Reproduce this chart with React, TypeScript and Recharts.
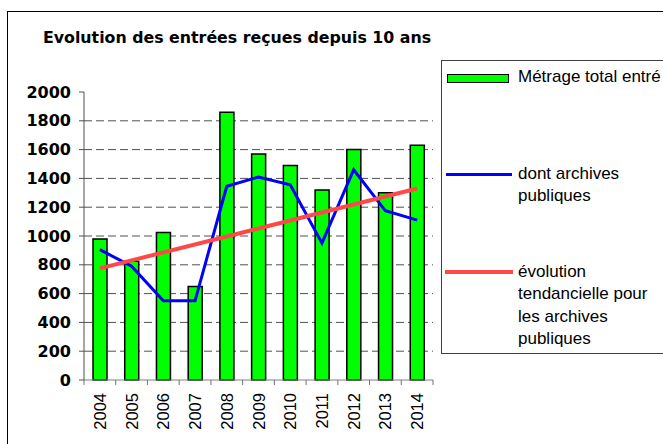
import React from 'react';
import { ComposedChart, Bar, Line, XAxis, YAxis, CartesianGrid } from 'recharts';

const YEARS = ['2004', '2005', '2006', '2007', '2008', '2009', '2010', '2011', '2012', '2013', '2014'];
const TOTAL = [980, 825, 1025, 650, 1860, 1570, 1490, 1320, 1600, 1300, 1630];
const PUBLIQUES = [905, 790, 550, 550, 1345, 1410, 1355, 950, 1460, 1175, 1110];
const TREND = [775, null, null, null, null, null, null, null, null, null, 1330];
const Y_TICKS = [0, 200, 400, 600, 800, 1000, 1200, 1400, 1600, 1800, 2000];
// dashed grid lines (the top edge is drawn by the cyan frame instead)
const GRID_VALUES = [200, 400, 600, 800, 1000, 1200, 1400, 1600, 1800];

const TITLE = 'Evolution des entrées reçues depuis 10 ans';
const LEGEND_TOTAL = ['Métrage total entré'];
const LEGEND_PUBLIQUES = ['dont archives', 'publiques'];
const LEGEND_TREND = ['évolution', 'tendancielle pour', 'les archives', 'publiques'];

const data = YEARS.map((year, i) => ({
    year,
    total: TOTAL[i],
    publiques: PUBLIQUES[i],
    trend: TREND[i]
}));

const LABEL_FONT = '"Liberation Sans", Arial, sans-serif';
const BOLD_FONT = '"DejaVu Sans", Verdana, sans-serif';

function YearTick(props: any) {
    const { x, y, payload, index, visibleTicksCount } = props;
    const off = payload && payload.offset ? payload.offset : 0;
    const last = index === visibleTicksCount - 1;
    return (
        <g>
            <line x1={x - off} x2={x - off} y1={y} y2={y + 5} stroke="#707070" />
            {last && <line x1={x + off} x2={x + off} y1={y} y2={y + 5} stroke="#707070" />}
            <text
                x={x}
                y={y + 13}
                transform={`rotate(-90, ${x}, ${y + 13})`}
                textAnchor="end"
                dominantBaseline="central"
                fontFamily={LABEL_FONT}
                fontSize={16.5}
                fill="#000"
            >
                {payload.value}
            </text>
        </g>
    );
}

function LegendItem({ lines, top, swatch }: { lines: string[]; top: number; swatch: React.ReactNode }) {
    return (
        <div style={{ position: 'absolute', left: 0, top, width: 300 }}>
            <div style={{ position: 'absolute', left: 0, top: 0 }}>{swatch}</div>
            <div
                style={{
                    position: 'absolute',
                    left: 76,
                    top: 0,
                    fontFamily: LABEL_FONT,
                    fontSize: 17,
                    lineHeight: '22.4px',
                    color: '#000',
                    whiteSpace: 'nowrap'
                }}
            >
                {lines.map(l => (
                    <div key={l}>{l}</div>
                ))}
            </div>
        </div>
    );
}

export default function App() {
    return (
        <div
            style={{
                position: 'fixed',
                left: 0,
                top: 0,
                width: 663,
                height: 444,
                overflow: 'hidden',
                background: '#fff'
            }}
        >
            <div
                style={{
                    position: 'absolute',
                    left: 7,
                    top: 11,
                    width: 720,
                    height: 500,
                    border: '1px solid #000'
                }}
            />
            <div
                style={{
                    position: 'absolute',
                    left: 43,
                    top: 28,
                    fontFamily: BOLD_FONT,
                    fontWeight: 'bold',
                    fontSize: 15.8,
                    whiteSpace: 'nowrap',
                    color: '#000'
                }}
            >
                {TITLE}
            </div>
            <ComposedChart
                width={663}
                height={444}
                data={data}
                margin={{ top: 92, right: 230, bottom: 0, left: 0 }}
                style={{ position: 'absolute', left: 0, top: 0 }}
            >
                <CartesianGrid
                    vertical={false}
                    horizontalValues={GRID_VALUES}
                    stroke="#505050"
                    strokeDasharray="8 4"
                />
                <XAxis
                    dataKey="year"
                    height={64}
                    axisLine={{ stroke: '#808080' }}
                    tickLine={false}
                    tickSize={0}
                    tickMargin={0}
                    interval={0}
                    tick={<YearTick />}
                />
                <XAxis
                    xAxisId="top"
                    dataKey="year"
                    orientation="top"
                    height={0}
                    tick={false}
                    tickLine={false}
                    axisLine={{ stroke: '#b4f2f2', strokeWidth: 2 }}
                />
                <YAxis
                    width={84}
                    domain={[0, 2000]}
                    ticks={Y_TICKS}
                    interval={0}
                    tickSize={5}
                    tickMargin={8}
                    axisLine={{ stroke: '#505050' }}
                    tickLine={{ stroke: '#505050' }}
                    tick={{ fill: '#000', fontFamily: BOLD_FONT, fontWeight: 'bold', fontSize: 16 }}
                />
                <YAxis
                    yAxisId="right"
                    orientation="right"
                    width={0}
                    domain={[0, 2000]}
                    tick={false}
                    tickLine={false}
                    axisLine={{ stroke: '#b4f2f2', strokeWidth: 2 }}
                />
                <Bar
                    dataKey="total"
                    fill="#00ff00"
                    stroke="#000"
                    strokeWidth={1.5}
                    barSize={14}
                    isAnimationActive={false}
                />
                <Line
                    dataKey="publiques"
                    stroke="#0000ff"
                    strokeWidth={3}
                    dot={false}
                    activeDot={false}
                    isAnimationActive={false}
                />
                <Line
                    dataKey="trend"
                    stroke="#ff4848"
                    strokeWidth={4}
                    dot={false}
                    activeDot={false}
                    connectNulls
                    isAnimationActive={false}
                />
            </ComposedChart>
            <div
                style={{
                    position: 'absolute',
                    left: 441,
                    top: 60,
                    width: 260,
                    height: 292,
                    border: '1px solid #404040',
                    background: '#fff'
                }}
            >
                <div style={{ position: 'absolute', left: 0, top: 0 }}>
                    <LegendItem
                        lines={LEGEND_TOTAL}
                        top={5}
                        swatch={
                            <div
                                style={{
                                    marginLeft: 5,
                                    marginTop: 8,
                                    width: 60,
                                    height: 7,
                                    background: '#00ff00',
                                    border: '1.5px solid #000'
                                }}
                            />
                        }
                    />
                    <LegendItem
                        lines={LEGEND_PUBLIQUES}
                        top={102}
                        swatch={<div style={{ marginLeft: 4, marginTop: 10, width: 66, height: 3, background: '#0000ff' }} />}
                    />
                    <LegendItem
                        lines={LEGEND_TREND}
                        top={200}
                        swatch={<div style={{ marginLeft: 3, marginTop: 9, width: 68, height: 4, background: '#ff4848' }} />}
                    />
                </div>
            </div>
        </div>
    );
}
